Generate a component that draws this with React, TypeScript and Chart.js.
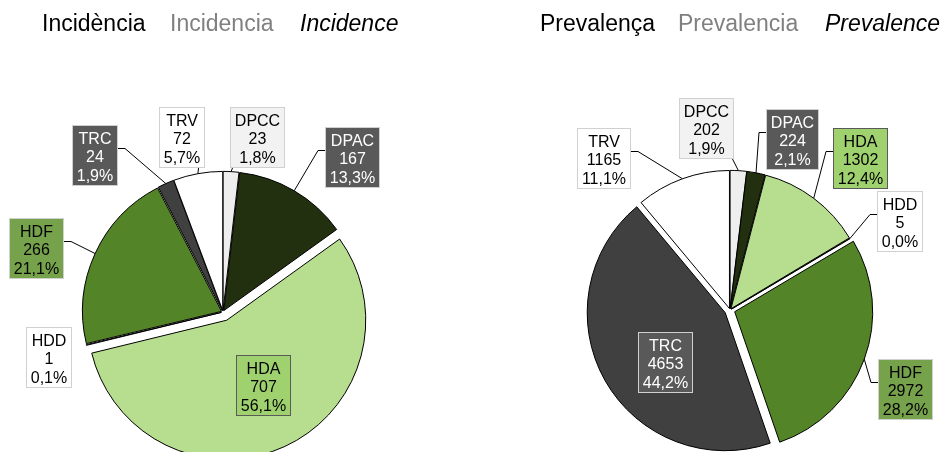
import React, { useEffect, useRef } from 'react';
import { Chart, registerables } from 'chart.js';

Chart.register(...registerables);

// ---- data ----
const categories = ['DPCC', 'DPAC', 'HDA', 'HDD', 'HDF', 'TRC', 'TRV'];
const incidenceValues = [23, 167, 707, 1, 266, 24, 72];
const prevalenceValues = [202, 224, 1302, 5, 2972, 4653, 1165];
const incidenceTitle = ['Incidència', 'Incidencia', 'Incidence'];
const prevalenceTitle = ['Prevalença', 'Prevalencia', 'Prevalence'];

// ---- styles ----
const sliceColors = ['#eeeeee', '#223010', '#b7de8e', '#ffffff', '#548428', '#404040', '#ffffff'];
const labelFill = ['#f2f2f2', '#595959', '#9fd26f', '#ffffff', '#77a24c', '#595959', '#ffffff'];
const labelBorder = ['#d0d0d0', '#d0d0d0', '#5a5a5a', '#d0d0d0', '#d0d0d0', '#d0d0d0', '#d0d0d0'];
const labelTextColor = ['#000000', '#ffffff', '#000000', '#000000', '#000000', '#ffffff', '#000000'];
const titleColors = ['#000000', '#808080', '#000000'];
const titleStyles = ['', '', 'italic '];

type LabelPos = [number, number, 'side' | 'bottom' | 'none'];

interface PieSpec {
  values: number[];
  title: string[];
  titleX: number[];
  explode: number[];
  labelPos: LabelPos[];
  padding: { left: number; right: number; top: number; bottom: number };
  radius: number;
  width: number;
  left: number;
}

const FONT = '"Liberation Sans", Arial, sans-serif';

const specs: PieSpec[] = [
  {
    values: incidenceValues,
    title: incidenceTitle,
    titleX: [42, 170, 300],
    explode: [1.6, 1.6, 9, 1.6, 1.6, 1.6, 1.6],
    labelPos: [
      [34, -175, 'bottom'],
      [129, -155, 'side'],
      [40, 73, 'none'],
      [-174, 45, 'none'],
      [-187, -64, 'side'],
      [-128, -157, 'side'],
      [-41, -175, 'bottom'],
    ],
    padding: { left: 0, right: 26, top: 172, bottom: 0 },
    radius: 139,
    width: 472,
    left: 0,
  },
  {
    values: prevalenceValues,
    title: prevalenceTitle,
    titleX: [68, 206, 353],
    explode: [1.6, 1.6, 1.6, 1.6, 5, 5.5, 1.6],
    labelPos: [
      [-24, -182, 'bottom'],
      [62, -171, 'side'],
      [130, -152, 'side'],
      [170, -89, 'side'],
      [175, 79, 'side'],
      [-65, 52, 'none'],
      [-126, -152, 'side'],
    ],
    padding: { left: 43, right: 0, top: 168, bottom: 0 },
    radius: 138,
    width: 473,
    left: 472,
  },
];

function pct(v: number, total: number) {
  return (v / total * 100).toFixed(1).replace('.', ',') + '%';
}

function makePlugin(spec: PieSpec) {
  return {
    id: 'customPie',
    beforeDatasetDraw(chart: any, args: any) {
      const ctx = chart.ctx;
      const meta = args.meta;
      meta.data.forEach((arc: any, i: number) => {
        const { startAngle, endAngle } = arc.getProps(['startAngle', 'endAngle'], true);
        const mid = (startAngle + endAngle) / 2;
        const e = spec.explode[i] || 0;
        ctx.save();
        ctx.translate(Math.cos(mid) * e, Math.sin(mid) * e);
        arc.draw(ctx);
        ctx.restore();
      });
      return false;
    },
    afterDraw(chart: any) {
      const ctx = chart.ctx;
      // titles
      ctx.save();
      ctx.textBaseline = 'alphabetic';
      ctx.textAlign = 'left';
      spec.title.forEach((w, i) => {
        ctx.font = `${titleStyles[i]}23px ${FONT}`;
        ctx.fillStyle = titleColors[i];
        ctx.fillText(w, spec.titleX[i], 31);
      });
      ctx.restore();

      const meta = chart.getDatasetMeta(0);
      const total = spec.values.reduce((a, b) => a + b, 0);
      const lineH = 18.3;
      meta.data.forEach((arc: any, i: number) => {
        const { x, y, startAngle, endAngle, outerRadius } = arc.getProps(
          ['x', 'y', 'startAngle', 'endAngle', 'outerRadius'], true);
        const mid = (startAngle + endAngle) / 2;
        const e = spec.explode[i] || 0;
        const ax = x + Math.cos(mid) * (outerRadius + e);
        const ay = y + Math.sin(mid) * (outerRadius + e);
        const [dx, dy, mode] = spec.labelPos[i];
        const cx = x + dx;
        const cy = y + dy;
        const lines = [categories[i], String(spec.values[i]), pct(spec.values[i], total)];
        ctx.save();
        ctx.font = `16px ${FONT}`;
        const tw = Math.max(...lines.map((l) => ctx.measureText(l).width));
        const bw = Math.round(tw + 10);
        const bh = 61;
        const bl = Math.round(cx - bw / 2);
        const bt = Math.round(cy - bh / 2);
        // leader line
        ctx.strokeStyle = '#000000';
        ctx.lineWidth = 1;
        if (mode === 'side') {
          const ly = Math.round(bt + bh / 2 - 7.5) + 0.5;
          ctx.beginPath();
          if (ax < bl) {
            ctx.moveTo(bl, ly);
            ctx.lineTo(bl - 7, ly);
          } else {
            ctx.moveTo(bl + bw, ly);
            ctx.lineTo(bl + bw + 7, ly);
          }
          ctx.lineTo(ax, ay);
          ctx.stroke();
        } else if (mode === 'bottom') {
          const lx = Math.min(Math.max(ax, bl + 2), bl + bw - 2);
          ctx.beginPath();
          ctx.moveTo(Math.round(lx) + 0.5, bt + bh);
          ctx.lineTo(ax, ay);
          ctx.stroke();
        }
        // box
        ctx.fillStyle = labelFill[i];
        ctx.fillRect(bl, bt, bw, bh);
        ctx.strokeStyle = labelBorder[i];
        ctx.strokeRect(bl + 0.5, bt + 0.5, bw - 1, bh - 1);
        // text
        ctx.fillStyle = labelTextColor[i];
        ctx.textAlign = 'center';
        ctx.textBaseline = 'alphabetic';
        lines.forEach((l, k) => {
          ctx.fillText(l, bl + bw / 2, bt + 19 + k * lineH);
        });
        ctx.restore();
      });
    },
  };
}

function PieCanvas({ spec }: { spec: PieSpec }) {
  const ref = useRef<HTMLCanvasElement | null>(null);
  useEffect(() => {
    if (!ref.current) return;
    const chart = new Chart(ref.current, {
      type: 'pie',
      data: {
        labels: categories,
        datasets: [
          {
            data: spec.values,
            backgroundColor: sliceColors,
            borderColor: '#000000',
            borderWidth: 1,
            hoverOffset: 0,
          } as any,
        ],
      },
      options: {
        animation: false,
        responsive: false,
        devicePixelRatio: 1,
        radius: spec.radius,
        rotation: 0,
        layout: { padding: spec.padding },
        events: [],
        plugins: {
          legend: { display: false },
          tooltip: { enabled: false },
          title: { display: false },
        },
      } as any,
      plugins: [makePlugin(spec)],
    });
    return () => chart.destroy();
  }, [spec]);
  return (
    <canvas
      ref={ref}
      width={spec.width}
      height={452}
      style={{ position: 'absolute', left: spec.left, top: 0, width: spec.width, height: 452 }}
    />
  );
}

export default function App() {
  return (
    <div style={{ position: 'fixed', left: 0, top: 0, width: 945, height: 452, background: '#ffffff', overflow: 'hidden' }}>
      {specs.map((s, i) => (
        <PieCanvas key={i} spec={s} />
      ))}
    </div>
  );
}
